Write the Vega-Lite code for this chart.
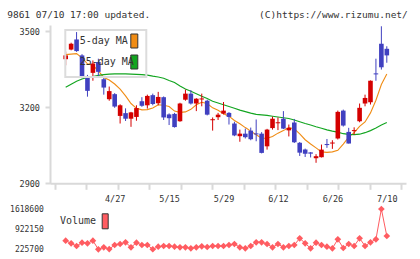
{
  "$schema": "https://vega.github.io/schema/vega-lite/v6.json",
  "width": 356,
  "height": 224.3,
  "autosize": {"type": "none"},
  "padding": {"left": 50, "top": 25, "right": 14, "bottom": 9.7},
  "background": "white",
  "config": {
    "view": {"stroke": null},
    "axis": {"labelFont": "DejaVu Sans Mono", "titleFont": "DejaVu Sans Mono", "labelColor": "#333", "titleColor": "#333", "titleFontWeight": "normal", "grid": false},
    "legend": {"labelFont": "DejaVu Sans Mono", "labelColor": "#333", "strokeWidth": 2}
  },
  "datasets": {
    "candles": [
      {"i":0,"o":3390,"h":3420,"l":3366,"c":3405},
      {"i":1,"o":3428,"h":3455,"l":3425,"c":3451},
      {"i":2,"o":3468,"h":3497,"l":3419,"c":3422},
      {"i":3,"o":3405,"h":3410,"l":3315,"c":3320},
      {"i":4,"o":3323,"h":3328,"l":3242,"c":3265},
      {"i":5,"o":3336,"h":3385,"l":3305,"c":3373},
      {"i":6,"o":3379,"h":3392,"l":3322,"c":3340},
      {"i":7,"o":3311,"h":3322,"l":3250,"c":3278},
      {"i":8,"o":3232,"h":3282,"l":3226,"c":3264},
      {"i":9,"o":3252,"h":3256,"l":3198,"c":3203},
      {"i":10,"o":3166,"h":3212,"l":3136,"c":3208},
      {"i":11,"o":3177,"h":3196,"l":3146,"c":3155},
      {"i":12,"o":3155,"h":3182,"l":3123,"c":3180},
      {"i":13,"o":3162,"h":3208,"l":3147,"c":3197},
      {"i":14,"o":3224,"h":3240,"l":3202,"c":3206},
      {"i":15,"o":3208,"h":3250,"l":3195,"c":3245},
      {"i":16,"o":3248,"h":3254,"l":3208,"c":3213},
      {"i":17,"o":3216,"h":3261,"l":3208,"c":3241},
      {"i":18,"o":3240,"h":3243,"l":3150,"c":3160},
      {"i":19,"o":3172,"h":3176,"l":3130,"c":3157},
      {"i":20,"o":3174,"h":3178,"l":3120,"c":3122},
      {"i":21,"o":3145,"h":3218,"l":3143,"c":3215},
      {"i":22,"o":3230,"h":3270,"l":3226,"c":3254},
      {"i":23,"o":3254,"h":3268,"l":3211,"c":3215},
      {"i":24,"o":3215,"h":3236,"l":3185,"c":3234},
      {"i":25,"o":3231,"h":3254,"l":3204,"c":3235},
      {"i":26,"o":3226,"h":3230,"l":3168,"c":3171},
      {"i":27,"o":3149,"h":3160,"l":3108,"c":3153},
      {"i":28,"o":3161,"h":3178,"l":3150,"c":3171},
      {"i":29,"o":3175,"h":3221,"l":3172,"c":3187},
      {"i":30,"o":3178,"h":3181,"l":3132,"c":3162},
      {"i":31,"o":3136,"h":3143,"l":3086,"c":3089},
      {"i":32,"o":3086,"h":3112,"l":3064,"c":3096},
      {"i":33,"o":3096,"h":3116,"l":3077,"c":3082},
      {"i":34,"o":3108,"h":3120,"l":3070,"c":3074},
      {"i":35,"o":3097,"h":3152,"l":3066,"c":3093},
      {"i":36,"o":3096,"h":3102,"l":3018,"c":3020},
      {"i":37,"o":3046,"h":3115,"l":3033,"c":3112},
      {"i":38,"o":3118,"h":3163,"l":3112,"c":3155},
      {"i":39,"o":3137,"h":3160,"l":3110,"c":3141},
      {"i":40,"o":3155,"h":3185,"l":3114,"c":3116},
      {"i":41,"o":3109,"h":3132,"l":3085,"c":3119},
      {"i":42,"o":3140,"h":3154,"l":3059,"c":3062},
      {"i":43,"o":3060,"h":3063,"l":3008,"c":3021},
      {"i":44,"o":3033,"h":3037,"l":3004,"c":3017},
      {"i":45,"o":3022,"h":3023,"l":3002,"c":3017},
      {"i":46,"o":2999,"h":3015,"l":2981,"c":3007},
      {"i":47,"o":3003,"h":3053,"l":3002,"c":3033},
      {"i":48,"o":3055,"h":3075,"l":3040,"c":3051},
      {"i":49,"o":3057,"h":3070,"l":3036,"c":3061},
      {"i":50,"o":3077,"h":3187,"l":3073,"c":3182},
      {"i":51,"o":3187,"h":3191,"l":3124,"c":3128},
      {"i":52,"o":3103,"h":3119,"l":3057,"c":3057},
      {"i":53,"o":3106,"h":3121,"l":3092,"c":3110},
      {"i":54,"o":3145,"h":3215,"l":3141,"c":3198},
      {"i":55,"o":3215,"h":3250,"l":3204,"c":3237},
      {"i":56,"o":3220,"h":3306,"l":3211,"c":3305},
      {"i":57,"o":3334,"h":3392,"l":3305,"c":3330},
      {"i":58,"o":3451,"h":3520,"l":3349,"c":3358},
      {"i":59,"o":3431,"h":3441,"l":3376,"c":3405}
    ],
    "ma": [
      {"i":0,"s":"5-day MA","v":3408},{"i":1,"s":"5-day MA","v":3410},{"i":2,"s":"5-day MA","v":3412},{"i":3,"s":"5-day MA","v":3395},{"i":4,"s":"5-day MA","v":3372},
      {"i":5,"s":"5-day MA","v":3366},{"i":6,"s":"5-day MA","v":3344},{"i":7,"s":"5-day MA","v":3318},{"i":8,"s":"5-day MA","v":3308},{"i":9,"s":"5-day MA","v":3292},
      {"i":10,"s":"5-day MA","v":3272},{"i":11,"s":"5-day MA","v":3245},{"i":12,"s":"5-day MA","v":3215},{"i":13,"s":"5-day MA","v":3196},{"i":14,"s":"5-day MA","v":3190},
      {"i":15,"s":"5-day MA","v":3191},{"i":16,"s":"5-day MA","v":3197},{"i":17,"s":"5-day MA","v":3210},{"i":18,"s":"5-day MA","v":3208},{"i":19,"s":"5-day MA","v":3203},
      {"i":20,"s":"5-day MA","v":3185},{"i":21,"s":"5-day MA","v":3180},{"i":22,"s":"5-day MA","v":3182},{"i":23,"s":"5-day MA","v":3192},{"i":24,"s":"5-day MA","v":3210},
      {"i":25,"s":"5-day MA","v":3220},{"i":26,"s":"5-day MA","v":3215},{"i":27,"s":"5-day MA","v":3198},{"i":28,"s":"5-day MA","v":3188},{"i":29,"s":"5-day MA","v":3175},
      {"i":30,"s":"5-day MA","v":3165},{"i":31,"s":"5-day MA","v":3148},{"i":32,"s":"5-day MA","v":3135},{"i":33,"s":"5-day MA","v":3120},{"i":34,"s":"5-day MA","v":3106},
      {"i":35,"s":"5-day MA","v":3092},{"i":36,"s":"5-day MA","v":3078},{"i":37,"s":"5-day MA","v":3078},{"i":38,"s":"5-day MA","v":3085},{"i":39,"s":"5-day MA","v":3098},
      {"i":40,"s":"5-day MA","v":3108},{"i":41,"s":"5-day MA","v":3120},{"i":42,"s":"5-day MA","v":3115},{"i":43,"s":"5-day MA","v":3095},{"i":44,"s":"5-day MA","v":3072},
      {"i":45,"s":"5-day MA","v":3055},{"i":46,"s":"5-day MA","v":3040},{"i":47,"s":"5-day MA","v":3024},{"i":48,"s":"5-day MA","v":3022},{"i":49,"s":"5-day MA","v":3024},
      {"i":50,"s":"5-day MA","v":3030},{"i":51,"s":"5-day MA","v":3055},{"i":52,"s":"5-day MA","v":3082},{"i":53,"s":"5-day MA","v":3100},{"i":54,"s":"5-day MA","v":3125},
      {"i":55,"s":"5-day MA","v":3142},{"i":56,"s":"5-day MA","v":3178},{"i":57,"s":"5-day MA","v":3228},{"i":58,"s":"5-day MA","v":3290},{"i":59,"s":"5-day MA","v":3332},
      {"i":0,"s":"25-day MA","v":3279},{"i":1,"s":"25-day MA","v":3291},{"i":2,"s":"25-day MA","v":3303},{"i":3,"s":"25-day MA","v":3312},{"i":4,"s":"25-day MA","v":3318},
      {"i":5,"s":"25-day MA","v":3322},{"i":6,"s":"25-day MA","v":3326},{"i":7,"s":"25-day MA","v":3329},{"i":8,"s":"25-day MA","v":3331},{"i":9,"s":"25-day MA","v":3332},
      {"i":10,"s":"25-day MA","v":3332},{"i":11,"s":"25-day MA","v":3332},{"i":12,"s":"25-day MA","v":3331},{"i":13,"s":"25-day MA","v":3330},{"i":14,"s":"25-day MA","v":3329},
      {"i":15,"s":"25-day MA","v":3327},{"i":16,"s":"25-day MA","v":3323},{"i":17,"s":"25-day MA","v":3320},{"i":18,"s":"25-day MA","v":3315},{"i":19,"s":"25-day MA","v":3306},
      {"i":20,"s":"25-day MA","v":3298},{"i":21,"s":"25-day MA","v":3284},{"i":22,"s":"25-day MA","v":3272},{"i":23,"s":"25-day MA","v":3263},{"i":24,"s":"25-day MA","v":3254},
      {"i":25,"s":"25-day MA","v":3244},{"i":26,"s":"25-day MA","v":3235},{"i":27,"s":"25-day MA","v":3224},{"i":28,"s":"25-day MA","v":3217},{"i":29,"s":"25-day MA","v":3210},
      {"i":30,"s":"25-day MA","v":3203},{"i":31,"s":"25-day MA","v":3196},{"i":32,"s":"25-day MA","v":3189},{"i":33,"s":"25-day MA","v":3183},{"i":34,"s":"25-day MA","v":3177},
      {"i":35,"s":"25-day MA","v":3172},{"i":36,"s":"25-day MA","v":3170},{"i":37,"s":"25-day MA","v":3168},{"i":38,"s":"25-day MA","v":3165},{"i":39,"s":"25-day MA","v":3162},
      {"i":40,"s":"25-day MA","v":3159},{"i":41,"s":"25-day MA","v":3156},{"i":42,"s":"25-day MA","v":3150},{"i":43,"s":"25-day MA","v":3143},{"i":44,"s":"25-day MA","v":3136},
      {"i":45,"s":"25-day MA","v":3130},{"i":46,"s":"25-day MA","v":3123},{"i":47,"s":"25-day MA","v":3117},{"i":48,"s":"25-day MA","v":3111},{"i":49,"s":"25-day MA","v":3106},
      {"i":50,"s":"25-day MA","v":3102},{"i":51,"s":"25-day MA","v":3096},{"i":52,"s":"25-day MA","v":3093},{"i":53,"s":"25-day MA","v":3092},{"i":54,"s":"25-day MA","v":3094},
      {"i":55,"s":"25-day MA","v":3100},{"i":56,"s":"25-day MA","v":3108},{"i":57,"s":"25-day MA","v":3118},{"i":58,"s":"25-day MA","v":3130},{"i":59,"s":"25-day MA","v":3140}
    ],
    "vol": [
      {"i":0,"v":523000},{"i":1,"v":433000},{"i":2,"v":340000},{"i":3,"v":454000},{"i":4,"v":433000},
      {"i":5,"v":523000},{"i":6,"v":225700},{"i":7,"v":295000},{"i":8,"v":232000},{"i":9,"v":374000},
      {"i":10,"v":409000},{"i":11,"v":467000},{"i":12,"v":295000},{"i":13,"v":454000},{"i":14,"v":374000},
      {"i":15,"v":374000},{"i":16,"v":228000},{"i":17,"v":316000},{"i":18,"v":340000},{"i":19,"v":340000},
      {"i":20,"v":316000},{"i":21,"v":295000},{"i":22,"v":295000},{"i":23,"v":260000},{"i":24,"v":295000},
      {"i":25,"v":330000},{"i":26,"v":305000},{"i":27,"v":340000},{"i":28,"v":340000},{"i":29,"v":340000},
      {"i":30,"v":374000},{"i":31,"v":409000},{"i":32,"v":295000},{"i":33,"v":260000},{"i":34,"v":340000},
      {"i":35,"v":467000},{"i":36,"v":467000},{"i":37,"v":409000},{"i":38,"v":295000},{"i":39,"v":409000},
      {"i":40,"v":295000},{"i":41,"v":340000},{"i":42,"v":374000},{"i":43,"v":606000},{"i":44,"v":433000},
      {"i":45,"v":260000},{"i":46,"v":454000},{"i":47,"v":374000},{"i":48,"v":316000},{"i":49,"v":260000},
      {"i":50,"v":571000},{"i":51,"v":270000},{"i":52,"v":409000},{"i":53,"v":340000},{"i":54,"v":606000},
      {"i":55,"v":340000},{"i":56,"v":467000},{"i":57,"v":571000},{"i":58,"v":1618600},{"i":59,"v":685000}
    ]
  },
  "resolve": {
    "scale": {"y": "independent", "color": "independent"},
    "axis": {"x": "independent", "y": "independent"},
    "legend": {"color": "independent"}
  },
  "layer": [
    {
      "encoding": {
        "x": {"field": "i", "type": "quantitative",
          "scale": {"domain": [-1.964, 61.607], "nice": false, "zero": false},
          "axis": {"orient": "bottom", "offset": -66, "values": [-1.964, 3.815, 9.594, 15.374, 21.153, 26.932, 32.711, 38.49, 44.27, 50.049, 55.828, 61.607],
            "labels": false, "tickSize": 6, "tickColor": "#d9d9d9", "tickWidth": 2, "domainColor": "#d9d9d9", "domainWidth": 2, "title": null}}
      },
      "layer": [
        {
          "data": {"name": "ma"},
          "mark": {"type": "line", "strokeWidth": 1.1},
          "encoding": {
            "y": {"field": "v", "type": "quantitative",
              "scale": {"domain": [2900, 3525], "range": [158.3, 0], "nice": false, "zero": false},
              "axis": {"orient": "left", "values": [2900, 3200, 3500], "format": "d", "tickSize": 5, "tickColor": "#d9d9d9", "tickWidth": 2, "domainColor": "#d9d9d9", "domainWidth": 2, "labelPadding": 5.5, "labelFontSize": 8.5,
                "title": "9861 07/10 17:00 updated.", "titleAngle": 0, "titleAlign": "left", "titleBaseline": "alphabetic", "titleX": -43.3, "titleY": -7.7, "titleFontSize": 9.5}},
            "stroke": {"field": "s", "type": "nominal", "scale": {"domain": ["5-day MA", "25-day MA"], "range": ["#f08c14", "#12a520"]}, "legend": null},
            "detail": {"field": "s"}
          }
        },
        {
          "data": {"name": "candles"},
          "mark": {"type": "rule", "strokeWidth": 1},
          "encoding": {
            "y": {"field": "l", "type": "quantitative",
              "scale": {"domain": [2900, 3525], "range": [158.3, 0], "nice": false, "zero": false},
              "axis": {"orient": "left", "values": [2900, 3200, 3500], "format": "d", "tickSize": 5, "tickColor": "#d9d9d9", "tickWidth": 2, "domainColor": "#d9d9d9", "domainWidth": 2, "labelPadding": 5.5, "labelFontSize": 8.5,
                "title": "9861 07/10 17:00 updated.", "titleAngle": 0, "titleAlign": "left", "titleBaseline": "alphabetic", "titleX": -43.3, "titleY": -7.7, "titleFontSize": 9.5}},
            "y2": {"field": "h"},
            "color": {"condition": {"test": "datum.c >= datum.o", "value": "#d40000"}, "value": "#4040c0"}
          }
        },
        {
          "data": {"name": "candles"},
          "mark": {"type": "bar", "size": 4.6},
          "encoding": {
            "y": {"field": "o", "type": "quantitative",
              "scale": {"domain": [2900, 3525], "range": [158.3, 0], "nice": false, "zero": false},
              "axis": {"orient": "left", "values": [2900, 3200, 3500], "format": "d", "tickSize": 5, "tickColor": "#d9d9d9", "tickWidth": 2, "domainColor": "#d9d9d9", "domainWidth": 2, "labelPadding": 5.5, "labelFontSize": 8.5,
                "title": "9861 07/10 17:00 updated.", "titleAngle": 0, "titleAlign": "left", "titleBaseline": "alphabetic", "titleX": -43.3, "titleY": -7.7, "titleFontSize": 9.5}},
            "y2": {"field": "c"},
            "color": {"condition": {"test": "datum.c >= datum.o", "value": "#d40000"}, "value": "#4040c0"}
          }
        },
        {
          "data": {"name": "ma"},
          "mark": {"type": "square", "opacity": 1, "size": 0, "stroke": "#333"},
          "encoding": {
            "y": {"field": "v", "type": "quantitative",
              "scale": {"domain": [2900, 3525], "range": [158.3, 0], "nice": false, "zero": false},
              "axis": {"orient": "left", "values": [2900, 3200, 3500], "format": "d", "tickSize": 5, "tickColor": "#d9d9d9", "tickWidth": 2, "domainColor": "#d9d9d9", "domainWidth": 2, "labelPadding": 5.5, "labelFontSize": 8.5,
                "title": "9861 07/10 17:00 updated.", "titleAngle": 0, "titleAlign": "left", "titleBaseline": "alphabetic", "titleX": -43.3, "titleY": -7.7, "titleFontSize": 9.5}},
            "color": {"field": "s", "type": "nominal", "scale": {"domain": ["5-day MA", "25-day MA"], "range": ["#f08c14", "#12a520"]},
              "legend": {"title": null, "orient": "none", "legendX": 15.3, "legendY": 5, "padding": 6,
                "symbolType": "M-1,-2H1V2H-1Z", "symbolSize": 49, "symbolOffset": 58, "labelOffset": -59.6,
                "symbolStrokeColor": "#333", "symbolStrokeWidth": 1, "rowPadding": 3,
                "labelFontSize": 10, "fillColor": "transparent", "strokeColor": "#dcdcdc"}}
          }
        }
      ]
    },
    {
      "data": {"name": "vol"},
      "encoding": {
        "x": {"field": "i", "type": "quantitative",
          "scale": {"domain": [-1.964, 61.607], "nice": false, "zero": false},
          "axis": {"orient": "bottom", "offset": -57.3, "values": [9, 19, 29, 39, 49, 59],
            "labelExpr": "['4/27','5/15','5/29','6/12','6/26','7/10'][(datum.value-9)/10]",
            "domain": false, "ticks": false, "tickSize": 0, "labelPadding": 2, "labelFontSize": 8.5, "labelDx": -1, "title": null}},
        "y": {"field": "v", "type": "quantitative",
          "scale": {"domain": [225700, 1618600], "range": [224.3, 184], "nice": false, "zero": false},
          "axis": {"orient": "left", "values": [225700, 922150, 1618600], "format": "d", "domain": false, "ticks": false, "tickSize": 0, "labelPadding": 6.7, "labelFontSize": 8,
            "title": "(C)https://www.rizumu.net/", "titleAngle": 0, "titleAlign": "right", "titleBaseline": "alphabetic", "titleX": 357.3, "titleY": -7.7, "titleFontSize": 9.5}}
      },
      "layer": [
        {"mark": {"type": "line", "color": "#ff5c61", "strokeWidth": 1}},
        {
          "mark": {"type": "point", "shape": "diamond", "filled": true, "size": 45, "opacity": 1},
          "encoding": {
            "color": {"datum": "Volume", "type": "nominal", "scale": {"domain": ["Volume"], "range": ["#ff5c61"]},
              "legend": {"title": null, "orient": "none", "legendX": 0, "legendY": 188.3, "padding": 0,
                "symbolType": "M-0.4,-1H0.4V1H-0.4Z", "symbolSize": 225, "symbolOffset": 47.2, "labelOffset": -53.2,
                "symbolStrokeColor": "#333", "symbolStrokeWidth": 1, "labelFontSize": 10}}
          }
        }
      ]
    }
  ]
}
